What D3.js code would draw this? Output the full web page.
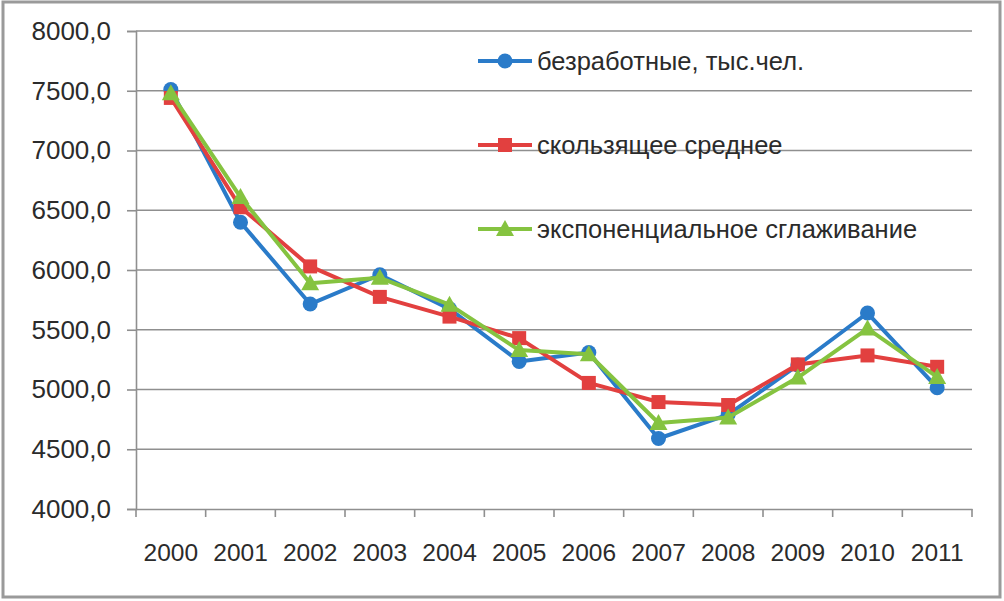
<!DOCTYPE html>
<html><head><meta charset="utf-8">
<script src="https://cdn.jsdelivr.net/npm/d3@7/dist/d3.min.js"></script>
<style>
html,body{margin:0;padding:0;background:#fff;}
text{font-family:"Liberation Sans",Arial,sans-serif;fill:#2b2b2b;}
</style></head><body>
<svg id="c" width="1004" height="601"></svg>
<script>
const years = ["2000","2001","2002","2003","2004","2005","2006","2007","2008","2009","2010","2011"];
const unemployed = [7510,6400,5715,5960,5675,5235,5310,4590,4790,5205,5640,5015];
const movingAvg = [7440,6525,6030,5775,5610,5430,5055,4895,4870,5210,5285,5190];
const expSmooth = [7480,6610,5890,5935,5710,5330,5295,4720,4765,5100,5510,5105];
const yTicks = [4000,4500,5000,5500,6000,6500,7000,7500,8000];
const seriesNames = ["безработные, тыс.чел.","скользящее среднее","экспоненциальное сглаживание"];
const colors = ["#2a7bc9","#e2403f","#85c340"];

const svg = d3.select("#c");
// outer frame
svg.append("rect").attr("x",3).attr("y",2).attr("width",997).attr("height",595)
  .attr("fill","#fff").attr("stroke","#9a9a9a").attr("stroke-width",3);

const x = d3.scaleBand().domain(years).range([136,972]);
const y = d3.scaleLinear().domain([4000,8000]).range([509,31]);

// gridlines
svg.append("g").selectAll("line").data(yTicks.slice(1)).join("line")
  .attr("x1",136).attr("x2",972).attr("y1",d=>y(d)).attr("y2",d=>y(d))
  .attr("stroke","#8f8f8f").attr("stroke-width",1.6);

// y axis
const fmt = d=>d3.format(".1f")(d).replace(".",",");
const ya = svg.append("g").attr("transform","translate(136,0)")
  .call(d3.axisLeft(y).tickValues(yTicks).tickFormat(fmt).tickSize(9).tickPadding(16));
ya.select(".domain").attr("stroke","#8f8f8f").attr("stroke-width",1.6);
ya.selectAll(".tick line").attr("stroke","#8f8f8f").attr("stroke-width",1.6);
ya.selectAll("text").attr("font-size",26).attr("fill","#2b2b2b").attr("font-family","Liberation Sans, Arial, sans-serif");

// x axis
const xa = svg.append("g").attr("transform","translate(0,509)")
  .call(d3.axisBottom(x).tickSize(0).tickPadding(35));
xa.select(".domain").attr("stroke","#8f8f8f").attr("stroke-width",1.6);
xa.selectAll("text").attr("font-size",24.5).attr("fill","#2b2b2b").attr("font-family","Liberation Sans, Arial, sans-serif");
// boundary ticks
const bounds = years.map(d=>x(d)).concat([x.range()[1]]);
svg.append("g").selectAll("line").data(bounds).join("line")
  .attr("x1",d=>d).attr("x2",d=>d).attr("y1",509).attr("y2",517)
  .attr("stroke","#8f8f8f").attr("stroke-width",1.6);

const cx = d=>x(d)+x.bandwidth()/2;
const data = [unemployed,movingAvg,expSmooth];
const line = d3.line().x((d,i)=>cx(years[i])).y(d=>y(d));

function marker(g,type,color,px,py){
  if(type===0) g.append("circle").attr("cx",px).attr("cy",py).attr("r",7.5).attr("fill",color);
  else if(type===1) g.append("rect").attr("x",px-7).attr("y",py-7).attr("width",14).attr("height",14).attr("fill",color);
  else g.append("path").attr("d",`M${px},${py-9}L${px+9},${py+7}L${px-9},${py+7}Z`).attr("fill",color);
}

data.forEach((vals,si)=>{
  const g = svg.append("g");
  g.append("path").datum(vals).attr("d",line).attr("fill","none")
    .attr("stroke",colors[si]).attr("stroke-width",4).attr("stroke-linejoin","round");
  vals.forEach((v,i)=>marker(g,si,colors[si],cx(years[i]),y(v)));
});

// legend
const legY = [61,145,229];
seriesNames.forEach((n,i)=>{
  const g = svg.append("g");
  g.append("line").attr("x1",478).attr("x2",532).attr("y1",legY[i]).attr("y2",legY[i])
    .attr("stroke",colors[i]).attr("stroke-width",4);
  marker(g,i,colors[i],505,legY[i]);
  g.append("text").attr("x",537).attr("y",legY[i]).attr("dy","0.35em")
    .attr("font-size",25.5).text(n);
});
</script></body></html>
